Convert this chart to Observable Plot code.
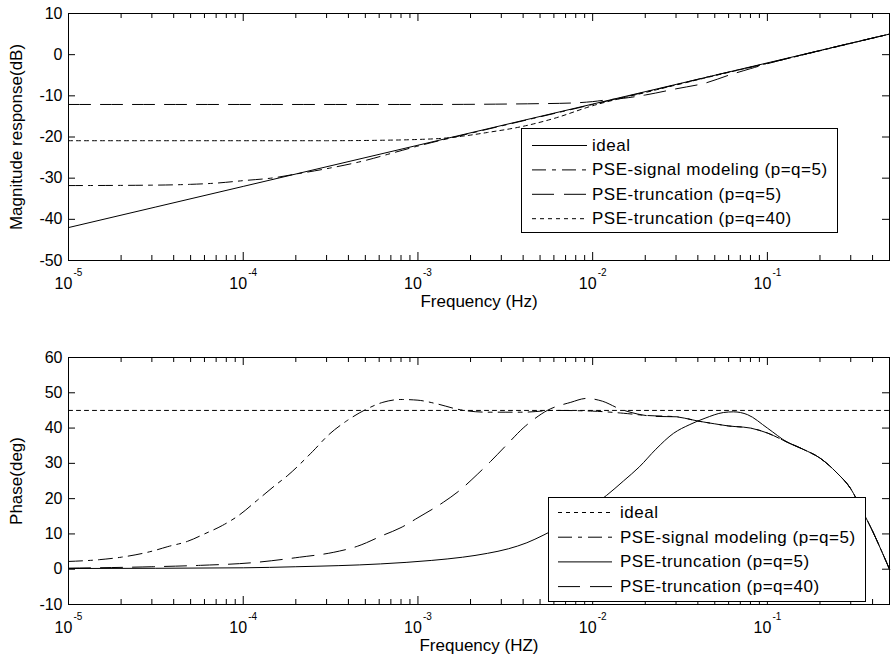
<!DOCTYPE html>
<html><head><meta charset="utf-8">
<script src="https://cdn.jsdelivr.net/npm/d3@7"></script>
<script src="https://cdn.jsdelivr.net/npm/@observablehq/plot@0.6"></script>
<style>
html,body{margin:0;padding:0;background:#fff;}
#chart{width:891px;height:663px;}
svg{display:block;}
</style></head><body><div id="chart"></div>
<script>
const FONT = '"Liberation Sans", Arial, Helvetica, sans-serif';

// ---- axis ticks ----
const majorTicks = [1e-5, 1e-4, 1e-3, 1e-2, 1e-1];
const majorExps = ["-5", "-4", "-3", "-2", "-1"];
const minorTicks = [2e-5, 3e-5, 4e-5, 5e-5, 6e-5, 7e-5, 8e-5, 9e-5,
  2e-4, 3e-4, 4e-4, 5e-4, 6e-4, 7e-4, 8e-4, 9e-4,
  2e-3, 3e-3, 4e-3, 5e-3, 6e-3, 7e-3, 8e-3, 9e-3,
  2e-2, 3e-2, 4e-2, 5e-2, 6e-2, 7e-2, 8e-2, 9e-2,
  0.2, 0.3, 0.4];
const magTicks = [-50, -40, -30, -20, -10, 0, 10];
const phaseTicks = [-10, 0, 10, 20, 30, 40, 50, 60];

// ---- legend labels ----
const names = ["ideal", "PSE-signal modeling (p=q=5)", "PSE-truncation (p=q=5)", "PSE-truncation (p=q=40)"];

// ---- magnitude (dB) ----
const magF_ideal = [1e-5, 1e-4, 1e-3, 1e-2, 1e-1, 0.5];
const magV_ideal = [-42, -32, -22, -12, -2, 5];

const magF_sm = [1e-5, 3e-5, 5e-5, 7e-5, 1e-4, 1.5e-4, 2e-4, 3e-4, 5e-4, 7e-4, 1e-3, 2e-3, 5e-3, 1e-2, 3e-2, 5e-2, 7e-2, 1e-1, 0.2, 0.5];
const magV_sm = [-31.8, -31.7, -31.5, -31.2, -30.6, -29.9, -29.0, -27.7, -25.7, -24.0, -22.2, -19.1, -15.1, -12.1, -7.3, -5.0, -3.6, -2.1, 1.0, 5.0];

const magF_t5 = [1e-5, 1e-3, 5e-3, 8e-3, 1e-2, 1.2e-2, 1.5e-2, 2e-2, 3e-2, 4.5e-2, 6e-2, 8e-2, 1e-1, 0.2, 0.5];
const magV_t5 = [-12.1, -12.1, -11.9, -11.7, -11.4, -11.0, -10.6, -9.8, -8.3, -6.8, -5.0, -3.4, -2.2, 1.0, 5.0];

const magF_t40 = [1e-5, 1e-4, 3e-4, 6e-4, 1e-3, 1.4e-3, 1.8e-3, 2.5e-3, 4e-3, 6e-3, 1e-2, 2e-2, 5e-2, 0.1, 0.5];
const magV_t40 = [-20.9, -20.9, -20.9, -20.8, -20.6, -20.3, -19.8, -18.9, -17.4, -15.5, -12.4, -9.2, -5.1, -2.1, 5.0];

// ---- phase (deg) ----
const phF_ideal = [1e-5, 0.5];
const phV_ideal = [45, 45];

const phF_sm = [1e-5, 1.5e-5, 2e-5, 3e-5, 3.7e-5, 4.8e-5, 6e-5, 7.6e-5, 9.4e-5, 1.2e-4, 1.5e-4, 1.8e-4, 2.5e-4, 3.1e-4, 3.9e-4, 5e-4, 6.3e-4, 8e-4, 1e-3, 1.3e-3, 1.7e-3, 2.5e-3, 4e-3, 6e-3, 1e-2, 1.5e-2, 2e-2, 3e-2, 4e-2, 5e-2, 6e-2, 8e-2, 1e-1, 1.3e-1, 1.6e-1, 2e-1, 2.5e-1, 3e-1, 3.5e-1, 4e-1, 4.5e-1, 5e-1];
const phV_sm = [2.2, 2.7, 3.4, 5.1, 6.4, 7.9, 10, 12.4, 15.2, 19.5, 23.5, 26.6, 33.4, 38.2, 42, 45.2, 47.3, 48.1, 47.9, 46.8, 45.3, 44.5, 44.5, 45, 44.8, 44.2, 43.6, 43.2, 42, 41.2, 40.6, 40, 38.6, 36, 34, 31.5, 27.3, 22.8, 16.5, 10.8, 5.2, 0];

const phF_t5 = [1e-5, 1e-4, 2e-4, 6.1e-4, 1.2e-3, 1.8e-3, 2.5e-3, 3.3e-3, 4.2e-3, 5.2e-3, 7e-3, 1e-2, 1.2e-2, 1.5e-2, 1.85e-2, 2.3e-2, 2.9e-2, 3.6e-2, 4.4e-2, 5.6e-2, 6.4e-2, 7.7e-2, 1e-1, 1.3e-1, 1.6e-1, 2e-1, 2.5e-1, 3e-1, 3.5e-1, 4e-1, 4.5e-1, 5e-1];
const phV_t5 = [0.2, 0.4, 0.7, 1.5, 2.5, 3.4, 4.5, 5.8, 7.5, 9.6, 13, 18, 20.9, 25, 29, 34, 38.5, 41, 42.8, 44.4, 44.6, 43.8, 40, 36, 34, 31.5, 27.3, 22.8, 16.5, 10.8, 5.2, 0];

const phF_t40 = [1e-5, 3e-5, 5.7e-5, 1.1e-4, 2.1e-4, 3.3e-4, 4.5e-4, 6.3e-4, 8e-4, 1e-3, 1.4e-3, 1.7e-3, 2.2e-3, 2.6e-3, 3.3e-3, 4e-3, 4.5e-3, 5.5e-3, 7.5e-3, 9.2e-3, 1.14e-2, 1.42e-2, 1.8e-2, 2.3e-2, 3e-2, 4e-2, 5e-2, 6e-2, 8e-2, 1e-1, 1.3e-1, 1.6e-1, 2e-1, 2.5e-1, 3e-1, 3.5e-1, 4e-1, 4.5e-1, 5e-1];
const phV_t40 = [0.3, 0.7, 1.1, 1.8, 3.4, 4.8, 6.5, 9.6, 11.8, 14.6, 19, 22, 27, 30.5, 35.8, 40, 42.1, 45, 47.3, 48.4, 47.6, 45.5, 44, 43.3, 43.2, 42, 41.2, 40.6, 40, 38.6, 36, 34, 31.5, 27.3, 22.8, 16.5, 10.8, 5.2, 0];

// ---- line styles ----
const SOLID = null, DASHDOT = "14,6,4,6", LONGDASH = "22,10", DOTTED = "4,4";

function rows(f, v) { return d3.zip(f, v).map(([f, v]) => ({f, v})); }

const W = 891, ML = 68, MR = 2;

function panel({height, marginTop, marginBottom, yDomain, yTicks, ylabel, xlabel, series, legend}) {
  const pw = W - ML - MR, ph = height - marginTop - marginBottom;
  const svg = Plot.plot({
    width: W, height, marginLeft: ML, marginRight: MR, marginTop, marginBottom,
    x: {type: "log", domain: [1e-5, 0.5], axis: null},
    y: {domain: yDomain, axis: null},
    style: {fontFamily: FONT, fontSize: "16px", color: "black", background: "white", overflow: "visible"},
    marks: [
      ...series.map(s => Plot.line(rows(s.f, s.v), {x: "f", y: "v", curve: "monotone-x", stroke: "black", strokeWidth: 1, strokeDasharray: s.dash || undefined})),
      Plot.frame({stroke: "black", strokeWidth: 1}),
      Plot.tickX(majorTicks, {x: d => d, insetBottom: ph - 8, stroke: "black"}),
      Plot.tickX(majorTicks, {x: d => d, insetTop: ph - 8, stroke: "black"}),
      Plot.tickX(minorTicks, {x: d => d, insetBottom: ph - 5, stroke: "black"}),
      Plot.tickX(minorTicks, {x: d => d, insetTop: ph - 5, stroke: "black"}),
      Plot.tickY(yTicks, {y: d => d, insetRight: pw - 7, stroke: "black"}),
      Plot.tickY(yTicks, {y: d => d, insetLeft: pw - 7, stroke: "black"}),
      Plot.text(yTicks, {y: d => d, frameAnchor: "left", text: d => String(d), textAnchor: "end", dx: -6, fontSize: 16, fill: "black"}),
      Plot.text(majorTicks, {x: d => d, frameAnchor: "bottom", text: () => "10", textAnchor: "middle", dx: -5, dy: 28, lineAnchor: "bottom", fontSize: 16, fill: "black"}),
      Plot.text(majorTicks, {x: d => d, frameAnchor: "bottom", text: (d, i) => majorExps[i], dx: 5, dy: 15, textAnchor: "start", lineAnchor: "bottom", fontSize: 10, fill: "black"}),
      Plot.text([xlabel], {frameAnchor: "bottom", text: d => d, textAnchor: "middle", dy: 46, lineAnchor: "bottom", fontSize: 17, fill: "black"}),
      Plot.text([ylabel], {frameAnchor: "left", text: d => d, textAnchor: "middle", rotate: -90, dx: -52, fontSize: 17, fill: "black"})
    ]
  });
  // legend box inside the axes
  const g = d3.select(svg).append("g").attr("font-family", FONT).attr("font-size", 17).attr("text-anchor", "start");
  g.append("rect").attr("x", legend.x + 0.5).attr("y", legend.y + 0.5).attr("width", legend.w).attr("height", legend.h)
    .attr("fill", "white").attr("stroke", "black").attr("stroke-width", 1);
  legend.items.forEach((it, i) => {
    const cy = legend.y + legend.first + i * legend.step;
    g.append("line").attr("x1", legend.s0).attr("x2", legend.s1).attr("y1", cy + 0.5).attr("y2", cy + 0.5)
      .attr("stroke", "black").attr("stroke-width", 1).attr("stroke-dasharray", it.dash || null);
    g.append("text").attr("x", legend.tx).attr("y", cy).attr("dy", "0.35em").attr("text-anchor", "start")
      .attr("letter-spacing", "0.5px").attr("fill", "black").text(it.name);
  });
  return svg;
}

const magPanel = panel({
  height: 330, marginTop: 13, marginBottom: 70, yDomain: [-50, 10], yTicks: magTicks,
  ylabel: "Magnitude response(dB)", xlabel: "Frequency (Hz)",
  series: [
    {f: magF_t5, v: magV_t5, dash: LONGDASH},
    {f: magF_t40, v: magV_t40, dash: DOTTED},
    {f: magF_sm, v: magV_sm, dash: DASHDOT},
    {f: magF_ideal, v: magV_ideal, dash: SOLID}
  ],
  legend: {x: 521, y: 128, w: 316, h: 104, first: 17, step: 24.4, s0: 532, s1: 587, tx: 592,
    items: [{name: names[0], dash: SOLID}, {name: names[1], dash: DASHDOT}, {name: names[2], dash: LONGDASH}, {name: names[3], dash: DOTTED}]}
});

const phasePanel = panel({
  height: 333, marginTop: 27, marginBottom: 59, yDomain: [-10, 60], yTicks: phaseTicks,
  ylabel: "Phase(deg)", xlabel: "Frequency (HZ)",
  series: [
    {f: phF_ideal, v: phV_ideal, dash: DOTTED},
    {f: phF_t40, v: phV_t40, dash: LONGDASH},
    {f: phF_sm, v: phV_sm, dash: DASHDOT},
    {f: phF_t5, v: phV_t5, dash: SOLID}
  ],
  legend: {x: 548, y: 167, w: 317, h: 104, first: 15, step: 24.7, s0: 558, s1: 612, tx: 620,
    items: [{name: names[0], dash: DOTTED}, {name: names[1], dash: DASHDOT}, {name: names[2], dash: SOLID}, {name: names[3], dash: LONGDASH}]}
});

const chart = document.getElementById("chart");
chart.appendChild(magPanel);
chart.appendChild(phasePanel);
</script>
</body></html>
